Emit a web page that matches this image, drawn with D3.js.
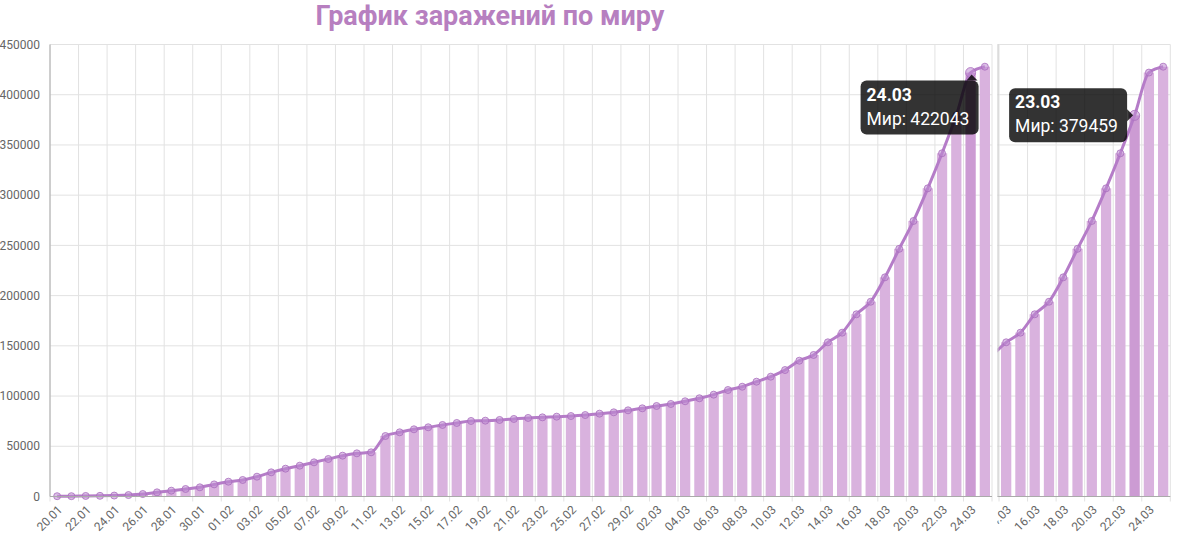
<!DOCTYPE html>
<html>
<head>
<meta charset="utf-8">
<script src="https://cdn.jsdelivr.net/npm/d3@7/dist/d3.min.js"></script>
<style>
  body { margin: 0; background: #fff; font-family: Roboto, "Noto Sans", sans-serif; }
  svg { display: block; }
</style>
</head>
<body>
<svg id="chart" width="1188" height="534"></svg>
<script>
// даты (подписи оси X)
const dates = [
  "20.01", "21.01", "22.01", "23.01", "24.01", "25.01", "26.01", "27.01", "28.01", "29.01", "30.01", "31.01",
  "01.02", "02.02", "03.02", "04.02", "05.02", "06.02", "07.02", "08.02", "09.02", "10.02", "11.02", "12.02",
  "13.02", "14.02", "15.02", "16.02", "17.02", "18.02", "19.02", "20.02", "21.02", "22.02", "23.02", "24.02",
  "25.02", "26.02", "27.02", "28.02", "29.02",
  "01.03", "02.03", "03.03", "04.03", "05.03", "06.03", "07.03", "08.03", "09.03", "10.03", "11.03", "12.03",
  "13.03", "14.03", "15.03", "16.03", "17.03", "18.03", "19.03", "20.03", "21.03", "22.03", "23.03", "24.03",
  "25.03"
];
// число заражений по миру
const cases = [
  282, 314, 555, 654, 941, 1434, 2470, 4150, 5800, 7480, 9140, 12060,
  14760, 16440, 19740, 24060, 27700, 30700, 34020, 37330, 40650, 42980, 43980, 60230,
  63900, 66900, 68900, 71200, 73200, 75200, 75500, 76200, 77200, 78200, 78800, 79500,
  80100, 81100, 82500, 83800, 85800,
  87800, 90100, 92100, 94800, 97800, 101400, 106000, 109300, 114300, 119300, 125900, 135200,
  140900, 153500, 163100, 181400, 193900, 218200, 246600, 274300, 306800, 341700, 379459, 422043,
  427900
];
const yTicks = [0, 50000, 100000, 150000, 200000, 250000, 300000, 350000, 400000, 450000];
const title = "График заражений по миру";
const seriesName = "Мир";

const plotLeft = 50, plotRight = 992, plotTop = 44.5, plotBottom = 496.5;
const sideShift = 178.3;   // второй (прокрученный) фрагмент
const sideClipX = 997.5;

const barColor = "#d9b2de";
const barHover = "#cc9bd3";
const lineColor = "#b57cc8";

const svg = d3.select("#chart");

const x = d3.scaleBand().domain(dates).range([plotLeft, plotRight]);
const y = d3.scaleLinear().domain([0, 450000]).range([plotBottom, plotTop]);
const bw = x.bandwidth();
const cx = d => x(d) + bw / 2;

// заголовок
svg.append("text")
  .attr("x", 490).attr("y", 25)
  .attr("text-anchor", "middle")
  .attr("font-size", 27).attr("font-weight", 700)
  .attr("fill", "#b77fc0")
  .text(title);

// подписи оси Y
svg.append("g").selectAll("text")
  .data(yTicks).enter().append("text")
  .attr("x", 40).attr("y", d => y(d))
  .attr("dy", "0.35em")
  .attr("text-anchor", "end")
  .attr("font-size", 12)
  .attr("fill", "#666")
  .text(d => d);

const defs = svg.append("defs");
defs.append("clipPath").attr("id", "clip-main")
  .append("rect").attr("x", 0).attr("y", 0).attr("width", plotRight + 1).attr("height", 534);
defs.append("clipPath").attr("id", "clip-side")
  .append("rect").attr("x", sideClipX).attr("y", 0).attr("width", 1188 - sideClipX).attr("height", 534);

function drawPanel(clipId, shift, hoverIdx) {
  const outer = svg.append("g").attr("clip-path", `url(#${clipId})`);
  const g = outer.append("g").attr("transform", `translate(${shift},0)`);

  // сетка
  const vLines = dates.filter((d, i) => i % 2 === 0).map(d => x(d)).concat([plotRight]);
  g.append("g").selectAll("line").data(vLines).enter().append("line")
    .attr("x1", d => d).attr("x2", d => d)
    .attr("y1", plotTop).attr("y2", plotBottom + 5)
    .attr("stroke", "#e2e2e2").attr("stroke-width", 1);
  g.append("g").selectAll("line").data(yTicks).enter().append("line")
    .attr("x1", plotLeft).attr("x2", plotRight)
    .attr("y1", d => y(d)).attr("y2", d => y(d))
    .attr("stroke", "#e2e2e2").attr("stroke-width", 1);

  // столбцы
  g.append("g").selectAll("rect").data(cases).enter().append("rect")
    .attr("x", (d, i) => cx(dates[i]) - bw * 0.36)
    .attr("width", bw * 0.72)
    .attr("y", d => y(d))
    .attr("height", d => plotBottom - y(d))
    .attr("fill", (d, i) => i === hoverIdx ? barHover : barColor);

  // линия
  const line = d3.line()
    .x((d, i) => cx(dates[i]))
    .y(d => y(d))
    .curve(d3.curveMonotoneX);
  g.append("path").datum(cases)
    .attr("d", line)
    .attr("fill", "none")
    .attr("stroke", lineColor)
    .attr("stroke-width", 3);

  g.append("g").selectAll("circle").data(cases).enter().append("circle")
    .attr("cx", (d, i) => cx(dates[i]))
    .attr("cy", d => y(d))
    .attr("r", (d, i) => i === hoverIdx ? 5 : 3.5)
    .attr("fill", "rgba(190,140,210,0.55)")
    .attr("stroke", "rgba(170,110,190,0.8)")
    .attr("stroke-width", 1);

  // ось X
  g.append("line")
    .attr("x1", plotLeft).attr("x2", plotRight)
    .attr("y1", plotBottom).attr("y2", plotBottom)
    .attr("stroke", "#aaa");

  // подписи оси X
  g.append("g").selectAll("text")
    .data(dates.filter((d, i) => i % 2 === 0)).enter().append("text")
    .attr("transform", d => `translate(${cx(d) + 3},${plotBottom + 11}) rotate(-45)`)
    .attr("text-anchor", "end")
    .attr("dy", "0.35em")
    .attr("font-size", 12)
    .attr("fill", "#666")
    .text(d => d);
  return outer;
}

drawPanel("clip-main", 0, dates.indexOf("24.03"));
svg.append("line")
  .attr("x1", plotLeft).attr("x2", plotLeft)
  .attr("y1", plotTop).attr("y2", plotBottom)
  .attr("stroke", "#aaa");

drawPanel("clip-side", sideShift, dates.indexOf("23.03"));
svg.append("line")
  .attr("x1", sideClipX + 0.5).attr("x2", sideClipX + 0.5)
  .attr("y1", plotTop).attr("y2", plotBottom)
  .attr("stroke", "#c8c8c8");

// всплывающие подсказки
function tooltip(date, shift, side) {
  const v = cases[dates.indexOf(date)];
  const px = cx(date) + shift, py = y(v);
  const w = 118, h = 54;
  let bx, by, caret;
  if (side === "below") {
    bx = px + 8 - w; by = py + 8;
    caret = [[bx + w - 12, by], [bx + w - 1, by], [px + 1, py + 2]];
  } else {
    bx = px - 7.5 - w; by = py - h / 2;
    caret = [[bx + w, py - 6], [bx + w, py + 6], [bx + w + 6, py]];
  }
  const t = svg.append("g");
  t.append("rect")
    .attr("x", bx).attr("y", by).attr("width", w).attr("height", h)
    .attr("rx", 6).attr("fill", "rgba(0,0,0,0.8)");
  t.append("path")
    .attr("d", d3.line()(caret) + "Z")
    .attr("fill", "rgba(0,0,0,0.8)");
  t.append("text")
    .attr("x", bx + 6).attr("y", by + 20)
    .attr("font-size", 17.5).attr("font-weight", 700)
    .attr("fill", "#fff").text(date);
  t.append("text")
    .attr("x", bx + 6).attr("y", by + 44)
    .attr("font-size", 17.5)
    .attr("fill", "#fff").text(`${seriesName}: ${v}`);
}
tooltip("24.03", 0, "below");
tooltip("23.03", sideShift, "left");
</script>
</body>
</html>
